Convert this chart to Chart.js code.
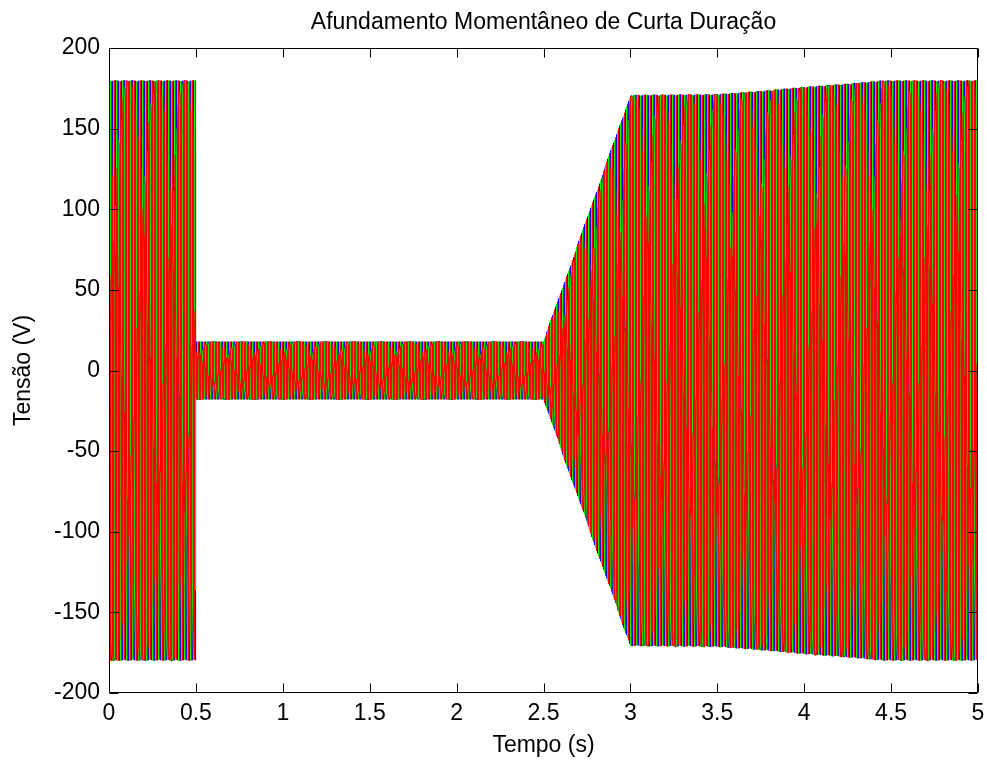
<!DOCTYPE html>
<html>
<head>
<meta charset="utf-8">
<title>Afundamento Momentâneo de Curta Duração</title>
<script src="https://cdn.jsdelivr.net/npm/chart.js@4/dist/chart.umd.min.js"></script>
<style>
  html, body { margin: 0; padding: 0; background: #fff; }
  #wrap { width: 987px; height: 762px; }
</style>
</head>
<body>
<div id="wrap"><canvas id="tensaoChart" width="987" height="762"></canvas></div>
<script>
// peak voltage of the three phases over time (s -> V)
const envTime = [0, 0.5, 0.5, 2.5, 3.0, 3.5, 3.75, 4.0, 4.25, 4.45, 5.0];
const envPeak = [180, 180, 18, 18, 171, 171.5, 173.5, 176, 178, 180, 180];

const freqHz = 60;
const sampleRate = 2000;
const phaseNames = ["Va", "Vb", "Vc"];
const phaseDeg = [0, -120, 120];
const phaseColors = ["#0000ff", "#00ff00", "#ff0000"];

const xTicks = [0, 0.5, 1, 1.5, 2, 2.5, 3, 3.5, 4, 4.5, 5];
const yTicks = [-200, -150, -100, -50, 0, 50, 100, 150, 200];

const chartTitle = "Afundamento Momentâneo de Curta Duração";
const FONT = "'Liberation Sans', Arial, Helvetica, sans-serif";

// amplitude at time t, following the envelope breakpoints (repeated time = step)
function peakAt(t) {
  let i = 0;
  while (i < envTime.length - 2 && t >= envTime[i + 1]) i++;
  const t0 = envTime[i], t1 = envTime[i + 1];
  if (t1 === t0) return envPeak[i + 1];
  return envPeak[i] + (envPeak[i + 1] - envPeak[i]) * (t - t0) / (t1 - t0);
}

function buildPhase(deg) {
  const pts = [];
  const n = Math.round(envTime[envTime.length - 1] * sampleRate);
  const ph = deg * Math.PI / 180;
  for (let k = 0; k <= n; k++) {
    const t = k / sampleRate;
    pts.push({ x: t, y: peakAt(t) * Math.sin(2 * Math.PI * freqHz * t + ph) });
  }
  return pts;
}

// axes box with inward ticks on all four sides, title centred over the plot
const boxPlugin = {
  id: "boxTicks",
  afterDatasetsDraw(chart) {
    const { ctx, chartArea: a, scales: { x, y } } = chart;
    const L = Math.round(a.left) + 0.5, R = Math.round(a.right) - 0.5;
    const T = Math.round(a.top) + 0.5, B = Math.round(a.bottom) - 0.5;
    const len = 9;
    ctx.save();
    ctx.strokeStyle = "#000";
    ctx.lineWidth = 1;
    ctx.beginPath();
    ctx.rect(L, T, R - L, B - T);
    xTicks.forEach((v) => {
      const px = Math.round(x.getPixelForValue(v)) + 0.5;
      ctx.moveTo(px, B); ctx.lineTo(px, B - len);
      ctx.moveTo(px, T); ctx.lineTo(px, T + len);
    });
    yTicks.forEach((v) => {
      const py = Math.round(y.getPixelForValue(v)) + 0.5;
      ctx.moveTo(L, py); ctx.lineTo(L + len, py);
      ctx.moveTo(R, py); ctx.lineTo(R - len, py);
    });
    ctx.stroke();

    ctx.fillStyle = "#000";
    ctx.font = "23px " + FONT;
    ctx.textAlign = "center";
    ctx.textBaseline = "middle";
    ctx.fillText(chartTitle, (a.left + a.right) / 2, 23);
    ctx.restore();
  }
};

const ctx = document.getElementById("tensaoChart").getContext("2d");

new Chart(ctx, {
  type: "line",
  data: {
    datasets: phaseNames.map((name, i) => ({
      label: name,
      data: buildPhase(phaseDeg[i]),
      borderColor: phaseColors[i],
      borderWidth: 1.15,
      borderJoinStyle: "bevel",
      pointRadius: 0,
      fill: false,
      tension: 0,
      order: phaseNames.length - i // red drawn last, on top
    }))
  },
  options: {
    responsive: false,
    devicePixelRatio: 1,
    animation: false,
    parsing: false,
    normalized: true,
    events: [],
    layout: { padding: { left: 0, right: 9, top: 48, bottom: 0 } },
    scales: {
      x: {
        type: "linear",
        min: 0,
        max: 5,
        afterBuildTicks: (s) => { s.ticks = xTicks.map((v) => ({ value: v })); },
        afterFit: (s) => { s.height = 69; s.paddingLeft = 0; s.paddingRight = 0; },
        grid: { display: false, drawTicks: false },
        border: { display: false },
        ticks: {
          color: "#000",
          padding: 7,
          maxRotation: 0,
          callback: (v) => String(v),
          font: { family: FONT, size: 23 }
        },
        title: {
          display: true,
          text: "Tempo (s)",
          color: "#000",
          font: { family: FONT, size: 23 },
          padding: { top: 0, bottom: 3 }
        }
      },
      y: {
        type: "linear",
        min: -200,
        max: 200,
        afterBuildTicks: (s) => { s.ticks = yTicks.map((v) => ({ value: v })); },
        afterFit: (s) => { s.width = 109; s.paddingTop = 0; s.paddingBottom = 0; },
        grid: { display: false, drawTicks: false },
        border: { display: false },
        ticks: {
          color: "#000",
          padding: 9,
          callback: (v) => String(v),
          font: { family: FONT, size: 23 }
        },
        title: {
          display: true,
          text: "Tensão (V)",
          color: "#000",
          font: { family: FONT, size: 23 },
          padding: { top: 10, bottom: 0 }
        }
      }
    },
    plugins: {
      legend: { display: false },
      tooltip: { enabled: false },
      title: { display: false }
    }
  },
  plugins: [boxPlugin]
});
</script>
</body>
</html>
